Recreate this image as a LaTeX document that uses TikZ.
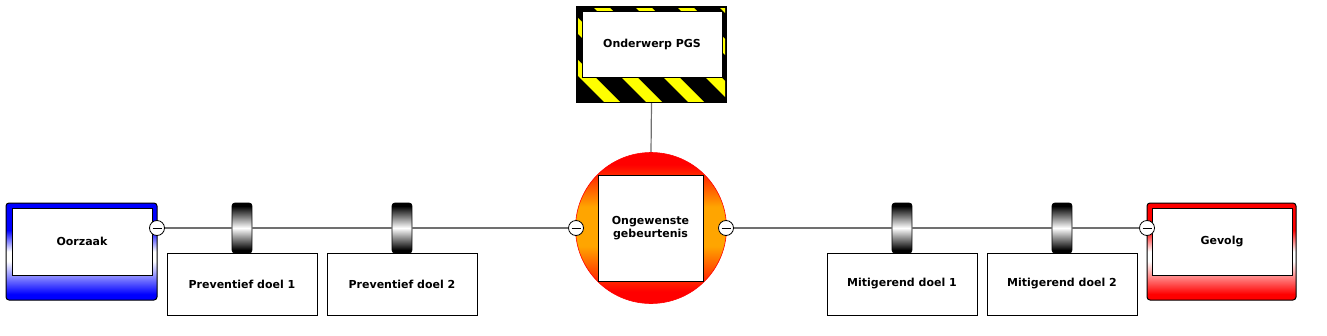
\documentclass[tikz,border=0pt]{standalone}
\usepackage{fontspec}
\setmainfont{DejaVu Sans}
\definecolor{linegray}{RGB}{112,112,112}
\definecolor{cblue}{RGB}{0,0,255}
\definecolor{cred}{RGB}{255,0,0}
\definecolor{corange}{RGB}{255,165,0}
\definecolor{hyellow}{RGB}{255,255,0}
\pgfdeclareverticalshading{causeshade}{100bp}{color(0bp)=(cblue); color(28bp)=(cblue); color(45bp)=(white); color(50bp)=(white); color(61bp)=(cblue); color(100bp)=(cblue)}
\pgfdeclareverticalshading{effectshade}{100bp}{color(0bp)=(cred); color(28bp)=(cred); color(45bp)=(white); color(50bp)=(white); color(61bp)=(cred); color(100bp)=(cred)}
\pgfdeclareverticalshading{eventshade}{100bp}{color(0bp)=(cred); color(29bp)=(cred); color(44bp)=(corange); color(57bp)=(corange); color(71bp)=(cred); color(100bp)=(cred)}
\pgfdeclareverticalshading{barriershade}{100bp}{color(0bp)=(black); color(28bp)=(black); color(50bp)=(white); color(72bp)=(black); color(100bp)=(black)}
\tikzset{
  txt/.style={font=\fontsize{11}{13}\selectfont\bfseries, text=black},
  whitebox/.style={txt, draw=black, fill=white, line width=1pt, inner sep=0pt, align=center},
  endbox/.style={draw=black, line width=1pt, rounded corners=3pt, inner sep=0pt, minimum height=97},
  barrierbox/.style={draw=black, line width=0.8pt, rounded corners=3pt, shade, shading=barriershade, minimum width=20, minimum height=50, inner sep=0pt},
  minusnode/.style={circle, draw=black, fill=white, line width=0.8pt, minimum size=15, inner sep=0pt,
    path picture={\draw[line width=0.8pt] ([xshift=-4.5pt]path picture bounding box.center) -- ([xshift=4.5pt]path picture bounding box.center);}},
  conn/.style={draw=linegray, line width=1.6pt},
  connthin/.style={draw=linegray, line width=1.2pt},
}
\begin{document}
\begin{tikzpicture}[x=1pt,y=-1pt]
\useasboundingbox[fill=white] (0,0) rectangle (1327,335);

% top event (PGS) hazard frame
\node[fill=black, minimum width=151, minimum height=97, inner sep=0pt] (pgsframe) at (651.5,54.5) {};
\begin{scope}
  \clip (578,8) rectangle (725,101);
  \foreach \k in {-4,...,6} {
    \fill[hyellow] ({502+42*\k},0) -- ({518+42*\k},0) -- ({628+42*\k},110) -- ({612+42*\k},110) -- cycle;
  }
\end{scope}
\node[whitebox, minimum width=140, minimum height=66] (pgs) at (652,44) {Onderwerp PGS};

% central event
\node[circle, draw=cred, line width=0.6pt, shade, shading=eventshade, minimum size=151, inner sep=0pt] (eventc) at (651,228) {};
\node[whitebox, minimum width=105, minimum height=106] (event) at (650.5,228) {Ongewenste\\gebeurtenis};

\draw[connthin] (pgsframe.south) -- (eventc.north);

% cause
\node[endbox, shade, shading=causeshade, minimum width=151] (causeframe) at (81.5,251.5) {};
\node[whitebox, minimum width=140, minimum height=67] (cause) at (82,241.5) {Oorzaak};

% consequence
\node[endbox, shade, shading=effectshade, minimum width=149] (effectframe) at (1221.5,251.5) {};
\node[whitebox, minimum width=140, minimum height=67] (effect) at (1222,241.5) {Gevolg};

% barriers
\node[barrierbox] (b1) at (242,228) {};
\node[barrierbox] (b2) at (402,228) {};
\node[barrierbox] (b3) at (902,228) {};
\node[barrierbox] (b4) at (1062,228) {};

\node[whitebox, minimum width=150, minimum height=62] (d1) at (242,284) {Preventief doel 1};
\node[whitebox, minimum width=150, minimum height=62] (d2) at (402,284) {Preventief doel 2};
\node[whitebox, minimum width=150, minimum height=62] (d3) at (902,284) {Mitigerend doel 1};
\node[whitebox, minimum width=150, minimum height=62] (d4) at (1062,284) {Mitigerend doel 2};

% minus connectors
\node[minusnode] (mc) at (157,228) {};
\node[minusnode] (me1) at (576,228) {};
\node[minusnode] (me2) at (726,228) {};
\node[minusnode] (mf) at (1147,228) {};

% connectors
\draw[conn] (mc) -- (b1);
\draw[conn] (b1) -- (b2);
\draw[conn] (b2) -- (me1);
\draw[conn] (me2) -- (b3);
\draw[conn] (b3) -- (b4);
\draw[conn] (b4) -- (mf);
\end{tikzpicture}
\end{document}
